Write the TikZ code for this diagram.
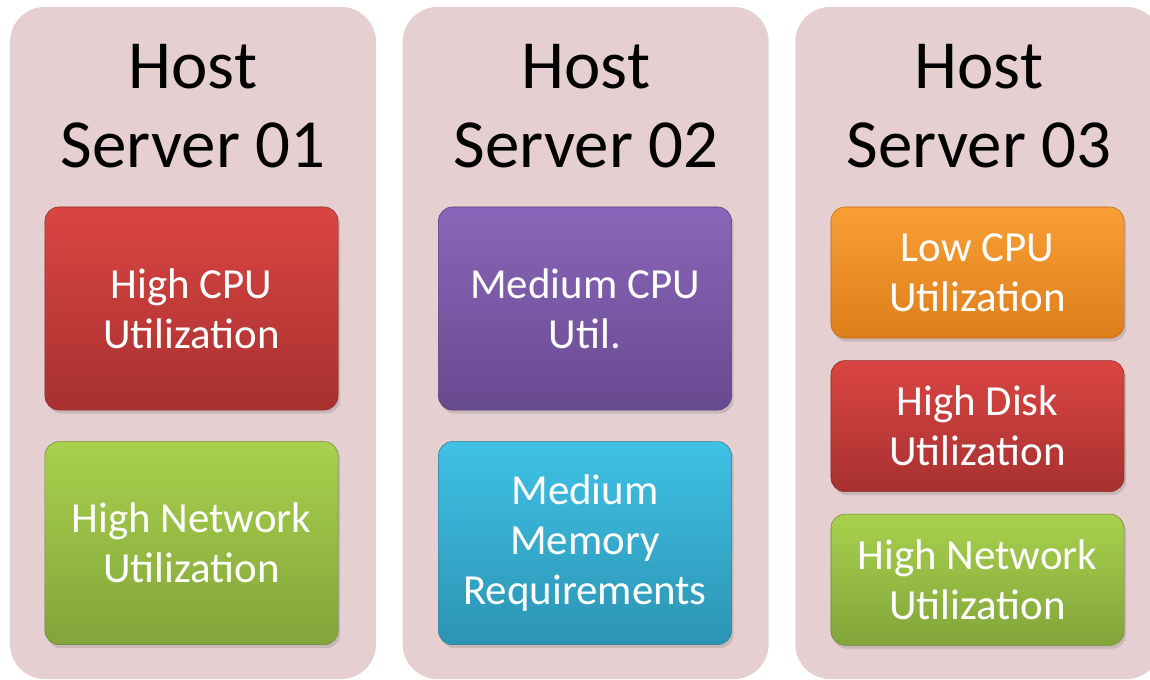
\documentclass[tikz,border=0pt]{standalone}
\usepackage{fontspec}
\setmainfont{Carlito}
\usepackage{xcolor}
\definecolor{mypink}{HTML}{E6CFD0}
\definecolor{myredtop}{HTML}{DA4542}
\definecolor{myredbot}{HTML}{A73130}
\definecolor{mygreentop}{HTML}{A8D14D}
\definecolor{mygreenbot}{HTML}{82A43A}
\definecolor{mypurpletop}{HTML}{8966B9}
\definecolor{mypurplebot}{HTML}{684A90}
\definecolor{mycyantop}{HTML}{3FC1E5}
\definecolor{mycyanbot}{HTML}{2C94B4}
\definecolor{myorangetop}{HTML}{F99E34}
\definecolor{myorangebot}{HTML}{DD7E1B}
\usetikzlibrary{positioning,shadows}

\tikzset{
    hostpanel/.style={fill=mypink, rounded corners=25pt, inner sep=0pt,
        minimum width=9.15cm, minimum height=16.8cm},
    hosttitle/.style={align=center, font=\fontsize{49}{56}\selectfont},
    loadbox/.style 2 args={top color=#1, bottom color=#2, draw=#2!85!black,
        rounded corners=10pt, minimum width=7.325cm, text=white, align=center,
        font=\fontsize{30.5}{35.6}\selectfont,
        drop shadow={shadow xshift=1.5pt, shadow yshift=-2.5pt, opacity=0.3}},
    tallbox/.style 2 args={loadbox={#1}{#2}, minimum height=5.075cm},
    flatbox/.style 2 args={loadbox={#1}{#2}, minimum height=3.275cm},
}

\begin{document}
\begin{tikzpicture}[x=0.025cm, y=-0.025cm]
    \useasboundingbox (0,0) rectangle (1150,679);

    % host panels
    \node[hostpanel] (host1) at (193,343) {};
    \node[hostpanel, right=0.65cm of host1] (host2) {};
    \node[hostpanel, right=0.65cm of host2] (host3) {};

    \node[hosttitle] (title1) at (193,106) {Host\\Server 01};
    \node[hosttitle] (title2) at (586,106) {Host\\Server 02};
    \node[hosttitle] (title3) at (979,106) {Host\\Server 03};

    % host server 01
    \node[tallbox={myredtop}{myredbot}] (cpu1) at (191.5,308.5) {High CPU\\Utilization};
    \node[tallbox={mygreentop}{mygreenbot}, below=0.775cm of cpu1] (net1) {High Network\\Utilization};

    % host server 02
    \node[tallbox={mypurpletop}{mypurplebot}] (cpu2) at (585,308.5) {Medium CPU\\Util.};
    \node[tallbox={mycyantop}{mycyanbot}, below=0.775cm of cpu2] (mem2) {Medium\\Memory\\Requirements};

    % host server 03
    \node[flatbox={myorangetop}{myorangebot}] (cpu3) at (977.5,272.5) {Low CPU\\Utilization};
    \node[flatbox={myredtop}{myredbot}, below=0.55cm of cpu3] (disk3) {High Disk\\Utilization};
    \node[flatbox={mygreentop}{mygreenbot}, below=0.55cm of disk3] (net3) {High Network\\Utilization};
\end{tikzpicture}
\end{document}
